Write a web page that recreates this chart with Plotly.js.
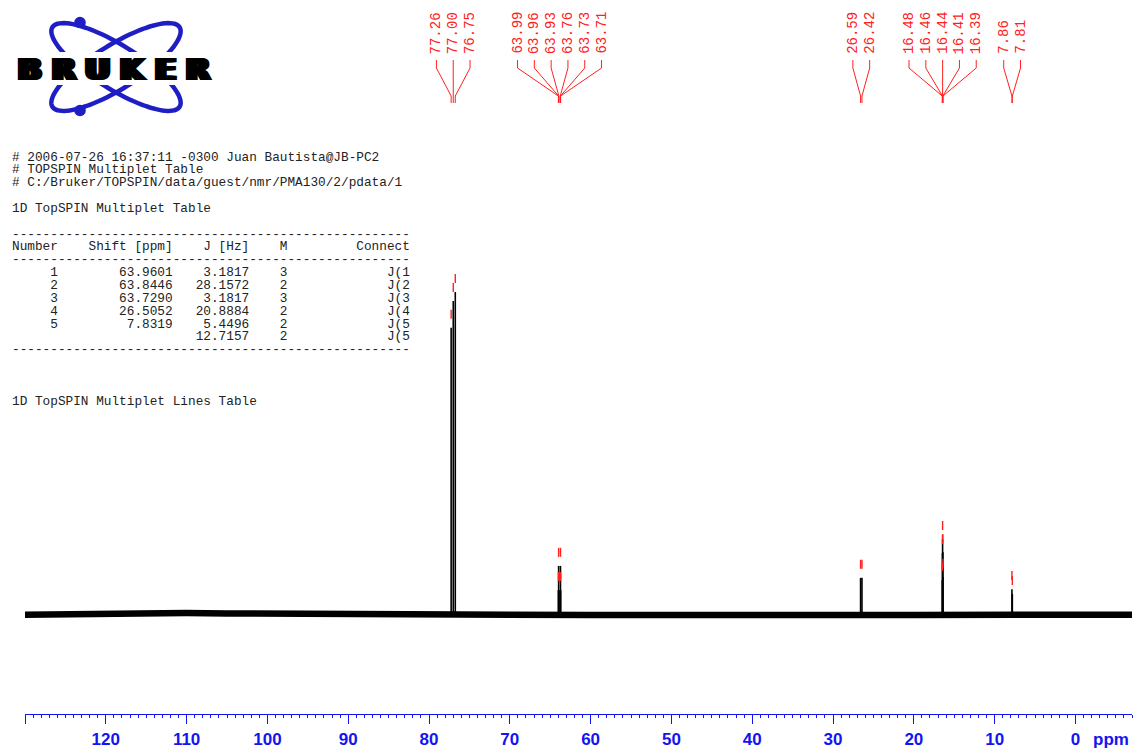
<!DOCTYPE html>
<html><head><meta charset="utf-8">
<script src="https://cdn.plot.ly/plotly-3.0.1.min.js"></script>
<style>html,body{margin:0;padding:0;background:#fff;overflow:hidden}#chart{width:1134px;height:751px}</style>
</head><body><div id="chart"></div>
<script>
// ---------------- data ----------------
const peakPpm    = [77.26, 77.00, 76.75, 63.99, 63.96, 63.93, 63.76, 63.73, 63.71, 26.59, 26.42, 16.48, 16.46, 16.44, 16.41, 16.39, 7.86, 7.81];
const peakHeight = [88.9, 97.2, 100.0, 7.7, 15.2, 7.7, 7.7, 15.2, 7.7, 11.5, 11.5, 10.8, 19.2, 23.5, 19.5, 11.8, 8.0, 6.5];
const labelGroupSizes = [3, 6, 2, 5, 2];
const baselinePpm = [130, 125, 120, 115, 110, 105, 100, 95, 90, 85, 80, 75, 70, 65, 60, 50, 40, 30, 20, 10, 0, -7];
const baselineVal = [0.1, 0.3, 0.4, 0.5, 0.6, 0.5, 0.4, 0.4, 0.4, 0.3, 0.2, 0.0, -0.1, 0.0, 0.0, 0.0, 0.2, 0.0, 0.0, 0.0, 0.0, 0.1];
const majorTickVals = [130, 120, 110, 100, 90, 80, 70, 60, 50, 40, 30, 20, 10, 0];
const majorTickText = ['', '120', '110', '100', '90', '80', '70', '60', '50', '40', '30', '20', '10', '0'];
const headerLines = ['# 2006-07-26 16:37:11 -0300 Juan Bautista@JB-PC2', '# TOPSPIN Multiplet Table', '# C:/Bruker/TOPSPIN/data/guest/nmr/PMA130/2/pdata/1'];
const tableTitle = '1D TopSPIN Multiplet Table';
const linesTitle = '1D TopSPIN Multiplet Lines Table';
const tableColumns = ['Number', 'Shift [ppm]', 'J [Hz]', 'M', 'Connect'];
const tableNumber  = ['1', '2', '3', '4', '5', ''];
const tableShift   = ['63.9601', '63.8446', '63.7290', '26.5052', '7.8319', ''];
const tableJ       = ['3.1817', '28.1572', '3.1817', '20.8884', '5.4496', '12.7157'];
const tableM       = ['3', '2', '3', '2', '2', '2'];
const tableConnect = ['J(1', 'J(2', 'J(3', 'J(4', 'J(5', 'J(5'];
const logoLetters = ['B', 'R', 'U', 'K', 'E', 'R'];

// ---------------- layout geometry ----------------
const W = 1134, H = 751, ML = 25, MR = 2, MT = 0, MB = 37;
const plotW = W - ML - MR, plotH = H - MT - MB;
const xRange = [130, -7];
const baseY = 615;                 // pixel row of zero intensity
const pxPerUnit = 3.23;
const yRange = [-(plotH - baseY) / pxPerUnit, baseY / pxPerUnit];
const pxPerPpm = plotW / (xRange[0] - xRange[1]);
const pxToPaperX = px => (px - ML) / plotW;
const pyToPaperY = py => 1 - (py - MT) / plotH;
const ppmToPx = p => ML + (xRange[0] - p) * pxPerPpm;
const pxToPpm = px => xRange[0] - (px - ML) / pxPerPpm;

const BLUE = '#1414f0';
const LOGO = '#1e1ec4';
const RED = '#ff2020';
const MONO = 'Liberation Mono, Courier New, monospace';

// ---------------- traces ----------------
const sx = [], sy = [], mx = [], my = [];
peakPpm.forEach((p, i) => {
  sx.push(p, p, null); sy.push(0, peakHeight[i], null);
  mx.push(p, p, null); my.push(peakHeight[i] + 2.8, peakHeight[i] + 5.6, null);
});
const traces = [
  {x: baselinePpm, y: baselineVal, mode: 'lines', line: {color: '#000', width: 6.5}, hoverinfo: 'skip'},
  {x: sx, y: sy, mode: 'lines', line: {color: '#000', width: 1.6}, hoverinfo: 'skip'},
  {x: mx, y: my, mode: 'lines', line: {color: RED, width: 1.4}, hoverinfo: 'skip'}
];

// ---------------- annotations & shapes ----------------
const annotations = [];
const shapes = [];

// peak labels with connectors
let idx = 0;
const labelSpacing = 16.8;
labelGroupSizes.forEach(n => {
  const grp = peakPpm.slice(idx, idx + n);
  const cPx = ppmToPx(grp.reduce((a, b) => a + b, 0) / n);
  grp.forEach((p, j) => {
    const lPx = cPx + (j - (n - 1) / 2) * labelSpacing;
    const lp = pxToPpm(lPx);
    annotations.push({x: lp, xref: 'x', y: pyToPaperY(55), yref: 'paper', xanchor: 'center', yanchor: 'bottom',
      text: p.toFixed(2), textangle: -90, showarrow: false, borderpad: 0,
      font: {family: MONO, size: 14, color: RED}});
    shapes.push({type: 'path', xref: 'x', yref: 'paper', layer: 'above',
      path: `M ${lp},${pyToPaperY(60)} L ${lp},${pyToPaperY(68)} L ${p},${pyToPaperY(96)} L ${p},${pyToPaperY(103)}`,
      line: {color: RED, width: 1}});
  });
  idx += n;
});

// text block
const pL = (s, n) => ' '.repeat(Math.max(0, n - s.length)) + s;
const pR = (s, n) => s + ' '.repeat(Math.max(0, n - s.length));
const dashes = '-'.repeat(52);
const header = pR(tableColumns[0], 10) + pR(tableColumns[1], 15) + pR(tableColumns[2], 10) + pR(tableColumns[3], 10) + tableColumns[4];
const rows = tableNumber.map((n, i) => pL(n, 6) + pL(tableShift[i], 15) + pL(tableJ[i], 10) + pL(tableM[i], 5) + pL(tableConnect[i], 16));
const textLines = [];
headerLines.forEach((t, k) => textLines.push([k, t]));
textLines.push([4, tableTitle], [6, dashes], [7, header], [8, dashes]);
rows.forEach((r, i) => textLines.push([9 + i, r]));
textLines.push([15, dashes], [19, linesTitle]);
textLines.forEach(([k, t]) => {
  annotations.push({x: pxToPaperX(11), xref: 'paper', y: pyToPaperY(157 + 12.85 * k), yref: 'paper',
    xanchor: 'left', yanchor: 'middle', showarrow: false, borderpad: 0,
    text: t.replace(/ /g, '\u00a0'), font: {family: MONO, size: 12.75, color: '#222'}});
});

// logo
function ellipsePath(cx, cy, a, b, deg) {
  const th = deg * Math.PI / 180, pts = [];
  for (let i = 0; i <= 96; i++) {
    const t = i / 96 * 2 * Math.PI;
    const ex = a * Math.cos(t), ey = b * Math.sin(t);
    const px = cx + ex * Math.cos(th) - ey * Math.sin(th);
    const py = cy + ex * Math.sin(th) + ey * Math.cos(th);
    pts.push(`${pxToPaperX(px)},${pyToPaperY(py)}`);
  }
  return 'M ' + pts.join(' L ') + ' Z';
}
[32, -32].forEach(d => shapes.push({type: 'path', xref: 'paper', yref: 'paper', path: ellipsePath(116, 67, 75, 22, d),
  line: {color: LOGO, width: 4.5}}));
shapes.push({type: 'rect', xref: 'paper', yref: 'paper', x0: pxToPaperX(12), x1: pxToPaperX(217),
  y0: pyToPaperY(52), y1: pyToPaperY(85), fillcolor: '#fff', line: {width: 0}});
[[80, 22.5], [80, 110.5]].forEach(([cx, cy]) => shapes.push({type: 'circle', xref: 'paper', yref: 'paper',
  x0: pxToPaperX(cx - 5.8), x1: pxToPaperX(cx + 5.8), y0: pyToPaperY(cy + 5.8), y1: pyToPaperY(cy - 5.8),
  fillcolor: LOGO, line: {width: 0}}));
const letterCenters = [29.5, 64, 98, 132, 165.5, 198];
logoLetters.forEach((L, i) => annotations.push({x: pxToPaperX(letterCenters[i]), xref: 'paper', y: pyToPaperY(69.5), yref: 'paper',
  xanchor: 'center', yanchor: 'middle', showarrow: false, borderpad: 0, text: L,
  font: {family: 'DejaVu Sans', size: 31, color: '#000', weight: 'bold',
    shadow: '1.5px 0 0 #000, -1.5px 0 0 #000, 3px 0 0 #000, -3px 0 0 #000'}}));

// ppm unit label
annotations.push({x: pxToPaperX(1111), xref: 'paper', y: pyToPaperY(739), yref: 'paper', xanchor: 'center', yanchor: 'middle',
  showarrow: false, text: 'ppm', font: {family: 'Liberation Sans, Arial', size: 17, color: BLUE, weight: 'bold'}});

const layout = {
  width: W, height: H, margin: {l: ML, r: MR, t: MT, b: MB, pad: 0},
  paper_bgcolor: '#fff', plot_bgcolor: '#fff', showlegend: false,
  xaxis: {range: xRange, showgrid: false, zeroline: false, showline: true, linecolor: BLUE, linewidth: 1,
    ticks: 'outside', ticklen: 9, tickwidth: 1, tickcolor: BLUE, tickmode: 'array',
    tickvals: majorTickVals, ticktext: majorTickText, ticklabelstandoff: 1,
    tickfont: {family: 'Liberation Sans, Arial', size: 17, color: BLUE, weight: 'bold'},
    minor: {dtick: 1, tick0: 0, ticks: 'outside', ticklen: 3, tickcolor: BLUE, tickwidth: 1, showgrid: false},
    fixedrange: true},
  yaxis: {range: yRange, visible: false, showgrid: false, zeroline: false, fixedrange: true},
  annotations: annotations, shapes: shapes
};
Plotly.newPlot('chart', traces, layout, {displayModeBar: false, staticPlot: true});
</script></body></html>
